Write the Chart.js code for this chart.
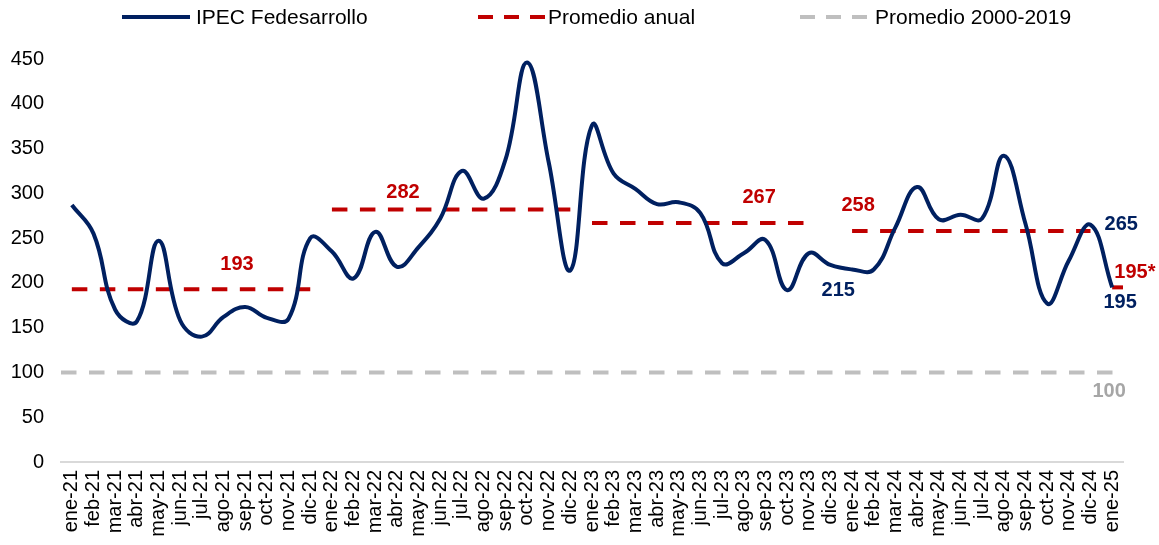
<!DOCTYPE html>
<html>
<head>
<meta charset="utf-8">
<script src="https://cdn.jsdelivr.net/npm/chart.js@4.4.1/dist/chart.umd.min.js"></script>
<style>
  html, body { margin: 0; padding: 0; background: #ffffff; }
  #wrap { width: 1159px; height: 545px; position: relative; }
</style>
</head>
<body>
<div id="wrap"><canvas id="chart" width="1159" height="545"></canvas></div>
<script>
// ---------------- DATA ----------------
const categories = [
  'ene-21','feb-21','mar-21','abr-21','may-21','jun-21','jul-21','ago-21','sep-21','oct-21','nov-21','dic-21',
  'ene-22','feb-22','mar-22','abr-22','may-22','jun-22','jul-22','ago-22','sep-22','oct-22','nov-22','dic-22',
  'ene-23','feb-23','mar-23','abr-23','may-23','jun-23','jul-23','ago-23','sep-23','oct-23','nov-23','dic-23',
  'ene-24','feb-24','mar-24','abr-24','may-24','jun-24','jul-24','ago-24','sep-24','oct-24','nov-24','dic-24',
  'ene-25'
];
const ipecValues = [
  287, 255, 170, 157, 247, 158, 140, 162, 173, 161, 160, 250,
  235, 205, 257, 218, 240, 272, 325, 294, 337, 446, 335, 214,
  376, 322, 305, 288, 290, 278, 222, 233, 248, 192, 233, 220,
  215, 215, 262, 307, 271, 276, 272, 342, 266, 177, 225, 265,
  195
];
// Annual average as drawn month by month (null where the reference shows no segment)
const annualAverageByMonth = [
  193, 193, 193, 193, 193, 193, 193, 193, 193, 193, 193, 193,
  282, 282, 282, 282, 282, 282, 282, 282, 282, 282, 282, 282,
  267, 267, 267, 267, 267, 267, 267, 267, 267, 267, 267, null,
  258, 258, 258, 258, 258, 258, 258, 258, 258, 258, 258, 258,
  195
];
const annualAverageLabels = ['193', '282', '267', '258', '195*'];
const longRunAverage = 100;
const yTickValues = [0, 50, 100, 150, 200, 250, 300, 350, 400, 450];

// ---------------- STYLE ----------------
const NAVY = '#002060';
const RED = '#C00000';
const GRAY = '#BFBFBF';
const GRAY_TEXT = '#A6A6A6';
const FONT = "Arial, 'Liberation Sans', Helvetica, sans-serif";
const DASH = [15.5, 12.5];

const xMin = -0.5;
const xMax = categories.length - 0.5;

// ---------------- BUILD SERIES ----------------
const ipecData = ipecValues.map((v, i) => ({ x: i, y: v }));

const annualData = annualAverageByMonth.map((v, i) => ({ x: i, y: v }));
// the last (single-month) average is extended to the end of the axis
const lastAvg = annualAverageByMonth[annualAverageByMonth.length - 1];
annualData.push({ x: xMax, y: lastAvg });

const longRunData = [{ x: xMin, y: longRunAverage }, { x: xMax, y: longRunAverage }];

// ---------------- ANNOTATIONS ----------------
const last = categories.length - 1;
const annotations = [
  { text: annualAverageLabels[0], color: RED, x: 7.62, value: annualAverageByMonth[0], dy: -25 },
  { text: annualAverageLabels[1], color: RED, x: 15.28, value: annualAverageByMonth[12], dy: -17 },
  { text: annualAverageLabels[2], color: RED, x: 31.71, value: annualAverageByMonth[24], dy: -25 },
  { text: annualAverageLabels[3], color: RED, x: 36.28, value: annualAverageByMonth[36], dy: -25 },
  { text: String(ipecValues[36]), color: NAVY, x: 35.36, value: ipecValues[36], dy: 21 },
  { text: String(ipecValues[last - 1]), color: NAVY, x: 48.42, value: ipecValues[last - 1], dy: 0 },
  { text: annualAverageLabels[4], color: RED, x: 49.05, value: annualAverageByMonth[last], dy: -15 },
  { text: String(ipecValues[last]), color: NAVY, x: 48.37, value: ipecValues[last], dy: 15 },
  { text: String(longRunAverage), color: GRAY_TEXT, x: 47.86, value: longRunAverage, dy: 19 }
];

const annotationPlugin = {
  id: 'valueLabels',
  afterDatasetsDraw(chart) {
    const { ctx, scales: { x, y } } = chart;
    ctx.save();
    ctx.font = 'bold 20px ' + FONT;
    ctx.textAlign = 'center';
    ctx.textBaseline = 'middle';
    annotations.forEach(a => {
      ctx.fillStyle = a.color;
      ctx.fillText(a.text, x.getPixelForValue(a.x), y.getPixelForValue(a.value) + a.dy);
    });
    ctx.restore();
  }
};

const legendLayout = [
  { lineX: 122, textX: 196, dash: [] },
  { lineX: 478, textX: 548, dash: [15, 11] },
  { lineX: 800, textX: 875, dash: [15, 11] }
];
const legendPlugin = {
  id: 'customLegend',
  afterDraw(chart) {
    const { ctx } = chart;
    const yMid = 17;
    ctx.save();
    chart.data.datasets.forEach((ds, i) => {
      const L = legendLayout[i];
      ctx.beginPath();
      ctx.setLineDash(L.dash);
      ctx.lineWidth = 4;
      ctx.strokeStyle = ds.borderColor;
      ctx.moveTo(L.lineX, yMid);
      ctx.lineTo(L.lineX + 68, yMid);
      ctx.stroke();
      ctx.setLineDash([]);
      ctx.fillStyle = '#000000';
      ctx.font = '21px ' + FONT;
      ctx.textAlign = 'left';
      ctx.textBaseline = 'middle';
      ctx.fillText(ds.label, L.textX, yMid + 1);
    });
    ctx.restore();
  }
};

// ---------------- CHART ----------------
new Chart(document.getElementById('chart'), {
  type: 'line',
  data: {
    datasets: [
      {
        label: 'IPEC Fedesarrollo',
        data: ipecData,
        borderColor: NAVY,
        backgroundColor: NAVY,
        borderWidth: 4,
        pointRadius: 0,
        tension: 0.42,
        fill: false
      },
      {
        label: 'Promedio anual',
        data: annualData,
        borderColor: RED,
        backgroundColor: RED,
        borderWidth: 4,
        borderDash: DASH,
        borderCapStyle: 'butt',
        pointRadius: 0,
        spanGaps: false,
        tension: 0,
        fill: false,
        segment: {
          // only join months that share the same yearly average
          borderColor: (c) => (c.p0.parsed.y === c.p1.parsed.y ? RED : 'rgba(0,0,0,0)')
        }
      },
      {
        label: 'Promedio 2000-2019',
        data: longRunData,
        borderColor: GRAY,
        backgroundColor: GRAY,
        borderWidth: 4,
        borderDash: DASH,
        borderCapStyle: 'butt',
        pointRadius: 0,
        tension: 0,
        fill: false
      }
    ]
  },
  options: {
    responsive: false,
    animation: false,
    devicePixelRatio: 1,
    layout: { padding: { top: 59, right: 36, bottom: 0, left: 0 } },
    plugins: {
      legend: { display: false },
      tooltip: { enabled: false }
    },
    scales: {
      x: {
        type: 'linear',
        min: xMin,
        max: xMax,
        grid: { display: false, drawTicks: false },
        border: { display: true, color: '#D9D9D9', width: 2 },
        afterBuildTicks(scale) {
          scale.ticks = categories.map((c, i) => ({ value: i }));
        },
        afterFit(scale) { scale.height = 83; },
        ticks: {
          autoSkip: false,
          minRotation: 90,
          maxRotation: 90,
          padding: 8,
          color: '#000000',
          font: { family: FONT, size: 20 },
          callback: (value) => categories[value]
        }
      },
      y: {
        min: 0,
        max: 450,
        grid: { display: false, drawTicks: false },
        border: { display: false },
        afterBuildTicks(scale) {
          scale.ticks = yTickValues.map(v => ({ value: v }));
        },
        afterFit(scale) { scale.width = 61; },
        ticks: {
          padding: 17,
          color: '#000000',
          font: { family: FONT, size: 20 }
        }
      }
    }
  },
  plugins: [annotationPlugin, legendPlugin]
});
</script>
</body>
</html>
